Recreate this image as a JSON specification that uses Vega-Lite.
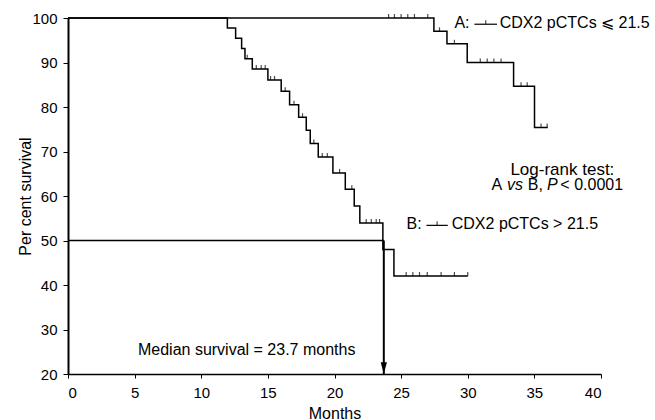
{
  "$schema": "https://vega.github.io/schema/vega-lite/v6.json",
  "width": 533,
  "height": 356,
  "autosize": {"type": "none"},
  "padding": {"left": 68, "top": 18, "right": 54, "bottom": 46},
  "background": "white",
  "config": {
    "view": {"stroke": null},
    "font": "Liberation Sans",
    "axis": {
      "domainColor": "black",
      "tickColor": "black",
      "labelColor": "black",
      "titleColor": "black",
      "labelFont": "Liberation Sans",
      "titleFont": "Liberation Sans",
      "labelFontSize": 15,
      "titleFontSize": 16,
      "titleFontWeight": "normal",
      "grid": false
    },
    "text": {"font": "Liberation Sans", "fontSize": 16, "color": "black"}
  },
  "datasets": {
    "curves": [
      {"group": "A", "month": 0, "survival": 100},
      {"group": "A", "month": 27.46, "survival": 97.0},
      {"group": "A", "month": 28.44, "survival": 94.2},
      {"group": "A", "month": 29.96, "survival": 90.0},
      {"group": "A", "month": 33.44, "survival": 84.65},
      {"group": "A", "month": 35.01, "survival": 75.4},
      {"group": "A", "month": 36.0, "survival": 75.4},
      {"group": "B", "month": 0, "survival": 100},
      {"group": "B", "month": 11.96, "survival": 97.76},
      {"group": "B", "month": 12.58, "survival": 95.44},
      {"group": "B", "month": 13.03, "survival": 93.12},
      {"group": "B", "month": 13.28, "survival": 90.87},
      {"group": "B", "month": 13.83, "survival": 88.54},
      {"group": "B", "month": 15.0, "survival": 86.07},
      {"group": "B", "month": 16.0, "survival": 83.53},
      {"group": "B", "month": 16.63, "survival": 80.53},
      {"group": "B", "month": 17.31, "survival": 77.69},
      {"group": "B", "month": 17.88, "survival": 74.76},
      {"group": "B", "month": 18.18, "survival": 71.77},
      {"group": "B", "month": 18.78, "survival": 68.77},
      {"group": "B", "month": 19.88, "survival": 65.17},
      {"group": "B", "month": 20.81, "survival": 61.5},
      {"group": "B", "month": 21.48, "survival": 57.75},
      {"group": "B", "month": 21.9, "survival": 53.93},
      {"group": "B", "month": 23.63, "survival": 47.95},
      {"group": "B", "month": 24.46, "survival": 42.02},
      {"group": "B", "month": 30.0, "survival": 42.02}
    ],
    "censored": [
      {"group": "A", "month": 24.06, "survival": 100},
      {"group": "A", "month": 24.5, "survival": 100},
      {"group": "A", "month": 25.0, "survival": 100},
      {"group": "A", "month": 25.5, "survival": 100},
      {"group": "A", "month": 26.0, "survival": 100},
      {"group": "A", "month": 27.0, "survival": 100},
      {"group": "A", "month": 27.88, "survival": 97.0},
      {"group": "A", "month": 29.0, "survival": 94.2},
      {"group": "A", "month": 30.94, "survival": 90.0},
      {"group": "A", "month": 31.46, "survival": 90.0},
      {"group": "A", "month": 31.96, "survival": 90.0},
      {"group": "A", "month": 32.5, "survival": 90.0},
      {"group": "A", "month": 34.0, "survival": 84.65},
      {"group": "A", "month": 34.46, "survival": 84.65},
      {"group": "A", "month": 35.5, "survival": 75.4},
      {"group": "A", "month": 35.96, "survival": 75.4},
      {"group": "B", "month": 13.45, "survival": 90.87},
      {"group": "B", "month": 14.13, "survival": 88.54},
      {"group": "B", "month": 14.5, "survival": 88.54},
      {"group": "B", "month": 14.8, "survival": 88.54},
      {"group": "B", "month": 15.2, "survival": 86.07},
      {"group": "B", "month": 15.5, "survival": 86.07},
      {"group": "B", "month": 16.3, "survival": 83.53},
      {"group": "B", "month": 16.96, "survival": 80.53},
      {"group": "B", "month": 17.6, "survival": 77.69},
      {"group": "B", "month": 18.45, "survival": 71.77},
      {"group": "B", "month": 19.08, "survival": 68.77},
      {"group": "B", "month": 19.46, "survival": 68.77},
      {"group": "B", "month": 20.38, "survival": 65.17},
      {"group": "B", "month": 21.3, "survival": 61.5},
      {"group": "B", "month": 22.38, "survival": 53.93},
      {"group": "B", "month": 22.76, "survival": 53.93},
      {"group": "B", "month": 23.13, "survival": 53.93},
      {"group": "B", "month": 23.38, "survival": 53.93},
      {"group": "B", "month": 25.38, "survival": 42.02},
      {"group": "B", "month": 25.88, "survival": 42.02},
      {"group": "B", "month": 26.38, "survival": 42.02},
      {"group": "B", "month": 26.96, "survival": 42.02},
      {"group": "B", "month": 28.0, "survival": 42.02},
      {"group": "B", "month": 29.0, "survival": 42.02},
      {"group": "B", "month": 30.0, "survival": 42.02}
    ],
    "legendLines": [
      {"group": "A", "start": 30.5, "end": 32.2, "tickAt": 31.35, "level": 98.6},
      {"group": "B", "start": 26.9, "end": 28.5, "tickAt": 27.7, "level": 53.4}
    ],
    "labels": [
      {"label": "A:", "month": 29.0, "survival": 98.8},
      {"label": "CDX2 pCTCs ⩽ 21.5", "month": 32.4, "survival": 98.8},
      {"label": "B:", "month": 25.4, "survival": 53.6},
      {"label": "CDX2 pCTCs > 21.5", "month": 28.8, "survival": 53.6},
      {"label": "A", "month": 31.79, "survival": 62.4},
      {"label": "B,", "month": 34.5, "survival": 62.4},
      {"label": "< 0.0001", "month": 36.95, "survival": 62.4},
      {"label": "Median survival = 23.7 months", "month": 5.25, "survival": 25.3}
    ],
    "italicLabels": [
      {"label": "vs", "month": 32.95, "survival": 62.4},
      {"label": "P", "month": 35.95, "survival": 62.4}
    ],
    "centerLabels": [
      {"label": "Log-rank test:", "month": 37.1, "survival": 65.8}
    ],
    "median": [
      {"month": 0, "monthEnd": 23.7, "survival": 50, "floor": 20}
    ]
  },
  "layer": [
    {
      "data": {"name": "curves"},
      "mark": {"type": "line", "interpolate": "step-after", "color": "black", "strokeWidth": 1.5},
      "encoding": {
        "x": {
          "field": "month", "type": "quantitative",
          "scale": {"domain": [0, 40], "nice": false},
          "axis": {"title": "Months", "values": [0, 5, 10, 15, 20, 25, 30, 35, 40], "tickSize": 4, "labelPadding": 7, "titlePadding": 5, "domainWidth": 1.5}
        },
        "y": {
          "field": "survival", "type": "quantitative",
          "scale": {"domain": [20, 100], "nice": false, "zero": false},
          "axis": {"title": "Per cent survival", "values": [20, 30, 40, 50, 60, 70, 80, 90, 100], "tickSize": 5, "labelPadding": 6, "titlePadding": -2, "domainWidth": 2}
        },
        "detail": {"field": "group"}
      }
    },
    {
      "data": {"name": "censored"},
      "mark": {"type": "tick", "orient": "vertical", "color": "black", "size": 4, "thickness": 1.2, "yOffset": -2},
      "encoding": {
        "x": {"field": "month", "type": "quantitative"},
        "y": {"field": "survival", "type": "quantitative"}
      }
    },
    {
      "data": {"name": "median"},
      "mark": {"type": "rule", "color": "black", "strokeWidth": 1.3},
      "encoding": {
        "x": {"field": "month", "type": "quantitative"},
        "x2": {"field": "monthEnd"},
        "y": {"field": "survival", "type": "quantitative"}
      }
    },
    {
      "data": {"name": "median"},
      "mark": {"type": "rule", "color": "black", "strokeWidth": 2},
      "encoding": {
        "x": {"field": "monthEnd", "type": "quantitative"},
        "y": {"field": "survival", "type": "quantitative"},
        "y2": {"field": "floor"}
      }
    },
    {
      "data": {"name": "median"},
      "mark": {"type": "point", "shape": "M -0.55 -1 L 0.55 -1 L 0 1 Z", "filled": true, "color": "black", "opacity": 1, "size": 130, "yOffset": -6},
      "encoding": {
        "x": {"field": "monthEnd", "type": "quantitative"},
        "y": {"field": "floor", "type": "quantitative"}
      }
    },
    {
      "data": {"name": "legendLines"},
      "mark": {"type": "rule", "color": "black", "strokeWidth": 1.2},
      "encoding": {
        "x": {"field": "start", "type": "quantitative"},
        "x2": {"field": "end"},
        "y": {"field": "level", "type": "quantitative"}
      }
    },
    {
      "data": {"name": "legendLines"},
      "mark": {"type": "tick", "orient": "vertical", "color": "black", "size": 4, "thickness": 1.2, "yOffset": -2},
      "encoding": {
        "x": {"field": "tickAt", "type": "quantitative"},
        "y": {"field": "level", "type": "quantitative"}
      }
    },
    {
      "data": {"name": "labels"},
      "mark": {"type": "text", "align": "left", "baseline": "middle"},
      "encoding": {
        "x": {"field": "month", "type": "quantitative"},
        "y": {"field": "survival", "type": "quantitative"},
        "text": {"field": "label"}
      }
    },
    {
      "data": {"name": "italicLabels"},
      "mark": {"type": "text", "align": "left", "baseline": "middle", "fontStyle": "italic"},
      "encoding": {
        "x": {"field": "month", "type": "quantitative"},
        "y": {"field": "survival", "type": "quantitative"},
        "text": {"field": "label"}
      }
    },
    {
      "data": {"name": "centerLabels"},
      "mark": {"type": "text", "align": "center", "baseline": "middle", "fontSize": 17},
      "encoding": {
        "x": {"field": "month", "type": "quantitative"},
        "y": {"field": "survival", "type": "quantitative"},
        "text": {"field": "label"}
      }
    }
  ]
}
